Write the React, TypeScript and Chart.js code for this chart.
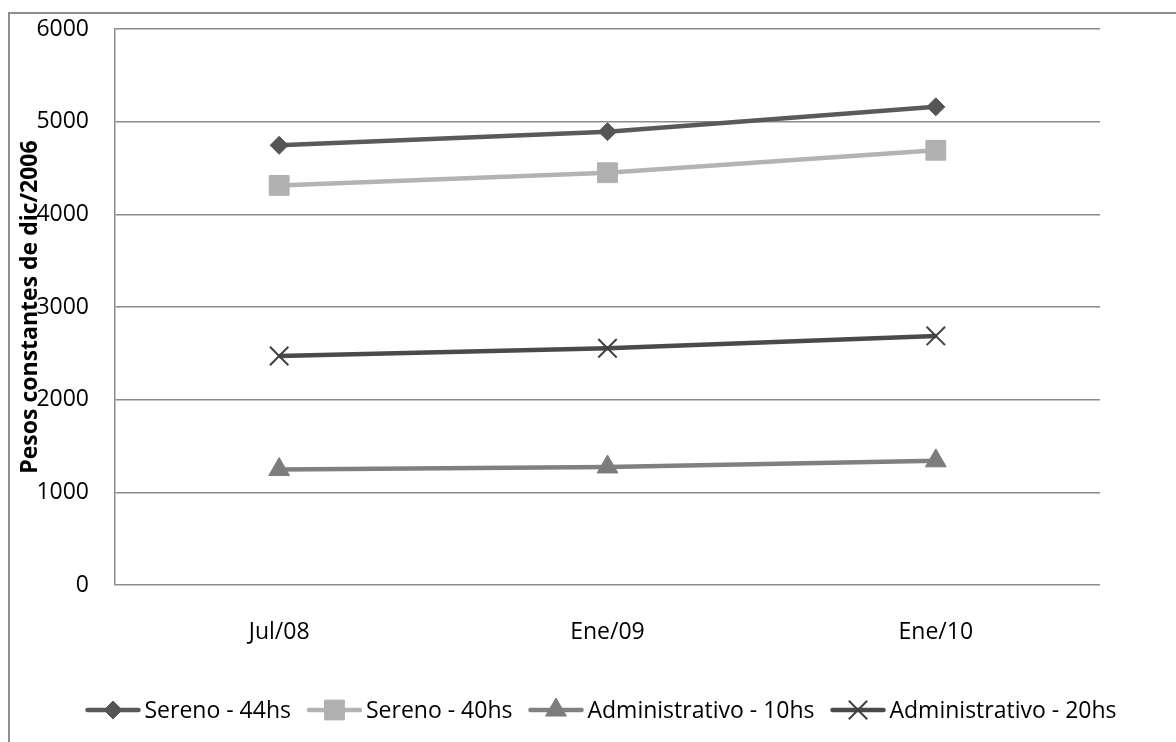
import React, { useEffect, useRef } from 'react';
import { Chart, registerables } from 'chart.js';
import { drawPoint } from 'chart.js/helpers';

Chart.register(...registerables);

const categories = ['Jul/08', 'Ene/09', 'Ene/10'];
const sereno44 = [4745, 4892, 5160];
const sereno40 = [4312, 4449, 4691];
const admin10 = [1246, 1274, 1340];
const admin20 = [2471, 2555, 2688];
const seriesNames = ['Sereno - 44hs', 'Sereno - 40hs', 'Administrativo - 10hs', 'Administrativo - 20hs'];
const yMin = 0;
const yMax = 6000;
const yStep = 1000;
const yTitle = 'Pesos constantes de dic/2006';

const FONT_FAMILY = '"Open Sans", "DejaVu Sans", sans-serif';
const FONT_SIZE = 23;

const lineLegend = {
  id: 'lineLegend',
  afterDraw(chart: any) {
    const ctx = chart.ctx as CanvasRenderingContext2D;
    ctx.save();
    ctx.font = `${FONT_SIZE}px ${FONT_FAMILY}`;
    const lineLen = 55;
    const gapText = 4;
    const gapItem = 16;
    const items = chart.data.datasets.map((ds: any) => ({ ds, w: ctx.measureText(ds.label).width }));
    const total =
      items.reduce((s: number, it: any) => s + lineLen + gapText + it.w, 0) + gapItem * (items.length - 1);
    let x = 601 - total / 2;
    const y = 710;
    for (const it of items) {
      const ds = it.ds;
      ctx.beginPath();
      ctx.strokeStyle = ds.borderColor;
      ctx.lineWidth = ds.borderWidth;
      ctx.lineCap = 'round';
      ctx.moveTo(x + 2, y);
      ctx.lineTo(x + lineLen - 2, y);
      ctx.stroke();
      ctx.lineCap = 'butt';
      ctx.fillStyle = ds.pointBackgroundColor;
      ctx.strokeStyle = ds.pointBorderColor;
      ctx.lineWidth = ds.pointBorderWidth;
      drawPoint(
        ctx,
        { pointStyle: ds.pointStyle, radius: ds.pointRadius, borderWidth: ds.pointBorderWidth, rotation: 0 } as any,
        x + lineLen / 2,
        y
      );
      ctx.fillStyle = '#000';
      ctx.textBaseline = 'middle';
      ctx.textAlign = 'left';
      ctx.fillText(ds.label, x + lineLen + gapText, y + 1);
      x += lineLen + gapText + it.w + gapItem;
    }
    ctx.restore();
  },
};

export default function App() {
  const canvasRef = useRef<HTMLCanvasElement | null>(null);

  useEffect(() => {
    if (!canvasRef.current) return;
    const font = { family: FONT_FAMILY, size: FONT_SIZE };
    const chart = new Chart(canvasRef.current, {
      type: 'line',
      data: {
        labels: categories,
        datasets: [
          {
            label: seriesNames[0],
            data: sereno44,
            borderColor: '#5a5a5a',
            borderWidth: 4.5,
            pointStyle: 'rectRot',
            pointRadius: 9,
            pointBackgroundColor: '#555555',
            pointBorderColor: '#555555',
            pointBorderWidth: 1,
            tension: 0,
          },
          {
            label: seriesNames[1],
            data: sereno40,
            borderColor: '#b3b3b3',
            borderWidth: 4.5,
            pointStyle: 'rect',
            pointRadius: 14,
            pointBackgroundColor: '#b0b0b0',
            pointBorderColor: '#b0b0b0',
            pointBorderWidth: 1,
            tension: 0,
          },
          {
            label: seriesNames[2],
            data: admin10,
            borderColor: '#808080',
            borderWidth: 4.5,
            pointStyle: 'triangle',
            pointRadius: 12,
            pointBackgroundColor: '#7c7c7c',
            pointBorderColor: '#7c7c7c',
            pointBorderWidth: 1,
            tension: 0,
          },
          {
            label: seriesNames[3],
            data: admin20,
            borderColor: '#4a4a4a',
            borderWidth: 4.5,
            pointStyle: 'crossRot',
            pointRadius: 13,
            pointBackgroundColor: '#404040',
            pointBorderColor: '#404040',
            pointBorderWidth: 2,
            tension: 0,
          },
        ],
      },
      options: {
        responsive: false,
        animation: false,
        devicePixelRatio: 1,
        layout: { padding: { left: 0, top: 29, right: 76, bottom: 97 } },
        plugins: { legend: { display: false }, tooltip: { enabled: false } },
        scales: {
          x: {
            type: 'category',
            offset: true,
            grid: { display: false, drawTicks: false },
            border: { display: false },
            ticks: { padding: 34, font, color: '#000' },
            afterFit: (s: any) => {
              s.height = 60;
              s.paddingLeft = 0;
              s.paddingRight = 0;
            },
          },
          y: {
            min: yMin,
            max: yMax,
            ticks: {
              stepSize: yStep,
              padding: 26,
              font,
              color: '#000',
              callback: (v: any) => String(v),
            },
            grid: { color: '#8c8c8c', lineWidth: 1.5, drawTicks: false },
            border: { color: '#8c8c8c', width: 1.5 },
            title: {
              display: true,
              text: yTitle,
              color: '#000',
              font: { family: FONT_FAMILY, size: FONT_SIZE, weight: 'bold' },
              padding: { top: 17, bottom: 0 },
            },
            afterFit: (s: any) => {
              s.width = 115;
              s.paddingTop = 0;
              s.paddingBottom = 0;
            },
          },
        },
      } as any,
      plugins: [lineLegend],
    });
    return () => chart.destroy();
  }, []);

  return (
    <div
      style={{
        position: 'fixed',
        left: 0,
        top: 0,
        width: 1176,
        height: 742,
        overflow: 'hidden',
        background: '#fff',
      }}
    >
      <div
        style={{
          position: 'absolute',
          left: 8,
          top: 12,
          width: 1300,
          height: 900,
          border: '2px solid #8d8d8d',
          boxSizing: 'border-box',
        }}
      />
      <canvas
        ref={canvasRef}
        width={1176}
        height={742}
        style={{ position: 'absolute', left: 0, top: 0, width: 1176, height: 742, display: 'block' }}
      />
    </div>
  );
}
